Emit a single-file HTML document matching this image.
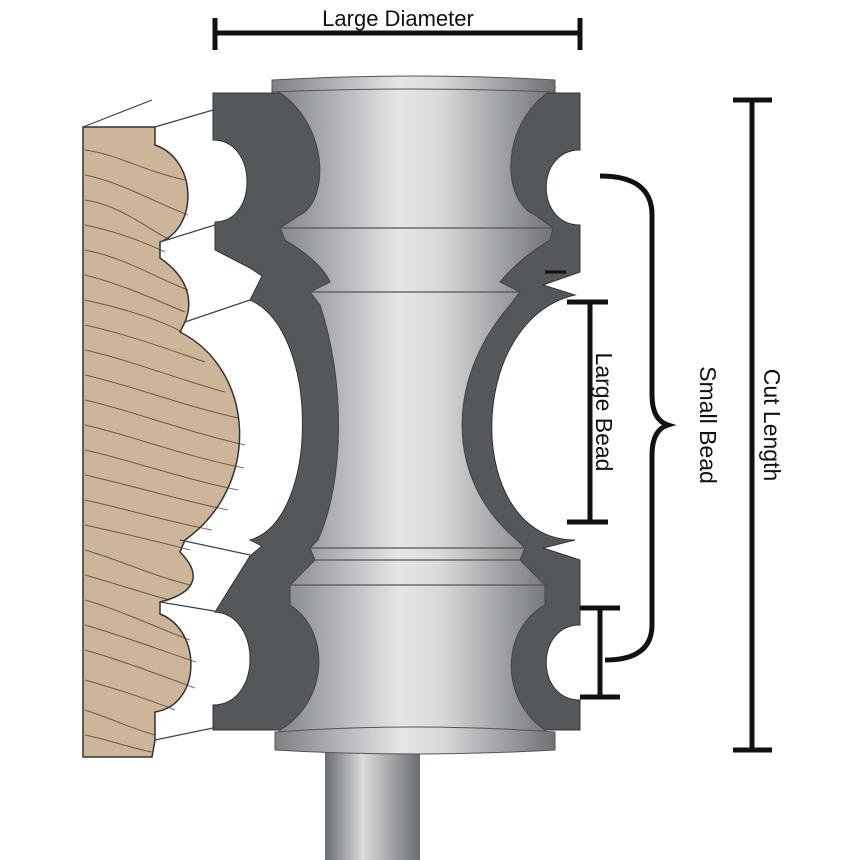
<!DOCTYPE html>
<html><head><meta charset="utf-8"><style>
html,body{margin:0;padding:0;background:#fff;width:860px;height:860px;overflow:hidden}
text{font-family:"Liberation Sans",sans-serif;fill:#111}
</style></head><body>
<svg width="860" height="860" viewBox="0 0 860 860" xmlns="http://www.w3.org/2000/svg">
<defs>
<linearGradient id="lg" x1="0" x2="1" y1="0" y2="0">
<stop offset="0" stop-color="#7d8084"/><stop offset="0.45" stop-color="#e4e6e8"/><stop offset="0.6" stop-color="#d6d8da"/><stop offset="1" stop-color="#6f7275"/>
</linearGradient>
<linearGradient id="sh" x1="0" x2="1" y1="0" y2="0">
<stop offset="0" stop-color="#6a6d70"/><stop offset="0.4" stop-color="#d9dbdd"/><stop offset="1" stop-color="#6a6d70"/>
</linearGradient>
</defs>
<rect x="325" y="745" width="95" height="120" fill="url(#sh)"/>
<path d="M83,127 L155,127 L155,145 C198,160 198,228 160,242 L160,258 C192,280 192,305 185,322 L180,332 C255,370 262,485 185,540 L180,552 C200,572 200,592 160,602 L160,614 C202,630 202,705 155,712 L155,740 L152,757 L83,757 Z" fill="#cdb59a" stroke="#333" stroke-width="1.5"/>
<g stroke="#3a3530" stroke-width="1" fill="none" opacity="0.7">
<path d="M85,150 C120,155 140,170 185,180"/><path d="M85,175 C120,182 150,200 188,215"/>
<path d="M85,200 C120,205 150,230 170,240"/><path d="M85,225 C120,232 150,245 165,252"/>
<path d="M85,250 C125,258 150,275 188,290"/><path d="M85,275 C125,285 155,300 185,312"/>
<path d="M85,300 C130,310 160,320 182,332"/><path d="M85,325 C130,335 170,350 205,362"/>
<path d="M85,350 C130,360 180,380 225,392"/><path d="M85,375 C130,385 180,405 238,418"/>
<path d="M85,400 C130,410 180,430 245,445"/><path d="M85,425 C130,435 180,455 244,468"/>
<path d="M85,450 C130,460 180,478 238,490"/><path d="M85,475 C130,485 180,500 228,510"/>
<path d="M85,500 C130,510 170,522 212,530"/><path d="M85,525 C130,535 160,542 190,550"/>
<path d="M85,550 C120,560 150,575 190,585"/><path d="M85,575 C120,585 150,595 170,600"/>
<path d="M85,600 C120,610 150,625 190,640"/><path d="M85,625 C120,635 160,650 196,662"/>
<path d="M85,650 C120,660 160,675 195,688"/><path d="M85,680 C120,690 150,700 175,710"/>
<path d="M85,710 C110,718 130,728 155,735"/><path d="M85,735 C110,740 130,748 152,752"/>
</g>
<path d="M83,127 L152,100 M155,127 L213,110 M160,242 L215,225 M185,322 L250,300 M180,540 L250,555 M160,602 L220,612 M155,740 L213,728" stroke="#444" stroke-width="1.2" fill="none"/>
<path d="M213,93 L580,93 L580,150 C535,150 535,225 580,225 L580,272 L543,285 L575,295 C464,320 464,540 575,540 L543,548 L580,560 L580,625 C535,625 535,700 580,700 L580,730 L213,730 L213,705 C262,705 262,615 215,612 L250,556 L262,546 L250,540 C320,520 320,330 250,300 L262,276 L250,268 L215,250 L215,222 C258,222 258,140 213,140 Z" fill="#55585b" stroke="#333" stroke-width="1"/>
<path d="M272,88 C330,120 330,200 300,215 L280,228 L285,240 C310,255 325,270 330,282 L310,292 L320,305 C345,380 345,480 318,540 L310,548 L315,560 L290,585 L290,605 C330,630 330,700 280,730 L275,745 L555,745 L545,730 C500,700 500,630 545,605 L545,585 L520,560 L525,548 L517,540 C445,480 445,380 510,305 L520,292 L500,282 C510,270 525,255 550,240 L553,228 L535,215 C500,200 500,120 555,88 Z" fill="url(#lg)" stroke="#444" stroke-width="1"/>
<path d="M272,80 Q413,72 555,80 L555,92 Q413,86 272,92 Z" fill="url(#lg)" stroke="#555"/>
<path d="M275,732 Q413,722 555,732 L555,750 Q413,758 275,750 Z" fill="url(#lg)" stroke="#555"/>
<g stroke="#555" stroke-width="1.2">
<line x1="280" y1="228" x2="553" y2="228"/><line x1="310" y1="292" x2="520" y2="292"/>
<line x1="310" y1="548" x2="525" y2="548"/><line x1="315" y1="560" x2="520" y2="560"/>
<line x1="290" y1="585" x2="545" y2="585"/>
</g>
<g stroke="#111" stroke-width="5" fill="none">
<line x1="213" y1="33" x2="582" y2="33"/><line x1="215" y1="18" x2="215" y2="50"/><line x1="580" y1="18" x2="580" y2="50"/>
<line x1="752" y1="100" x2="752" y2="750"/><line x1="733" y1="100" x2="772" y2="100"/><line x1="733" y1="750" x2="772" y2="750"/>
<line x1="590" y1="302" x2="590" y2="522"/><line x1="567" y1="302" x2="608" y2="302"/><line x1="567" y1="522" x2="608" y2="522"/>
<line x1="600" y1="608" x2="600" y2="697"/><line x1="580" y1="608" x2="620" y2="608"/><line x1="580" y1="697" x2="620" y2="697"/>
<path d="M600,176 Q652,176 652,215 L652,395 Q652,420 668,425 Q652,430 652,455 L652,625 Q652,660 605,660"/>
<line x1="545" y1="272" x2="566" y2="272" stroke-width="3"/>
</g>
<text x="398" y="26" font-size="22" text-anchor="middle">Large Diameter</text>
<text transform="translate(596,412) rotate(90)" font-size="23" text-anchor="middle">Large Bead</text>
<text transform="translate(700,425) rotate(90)" font-size="23" text-anchor="middle">Small Bead</text>
<text transform="translate(764,425) rotate(90)" font-size="23" text-anchor="middle">Cut Length</text>
</svg>
</body></html>
